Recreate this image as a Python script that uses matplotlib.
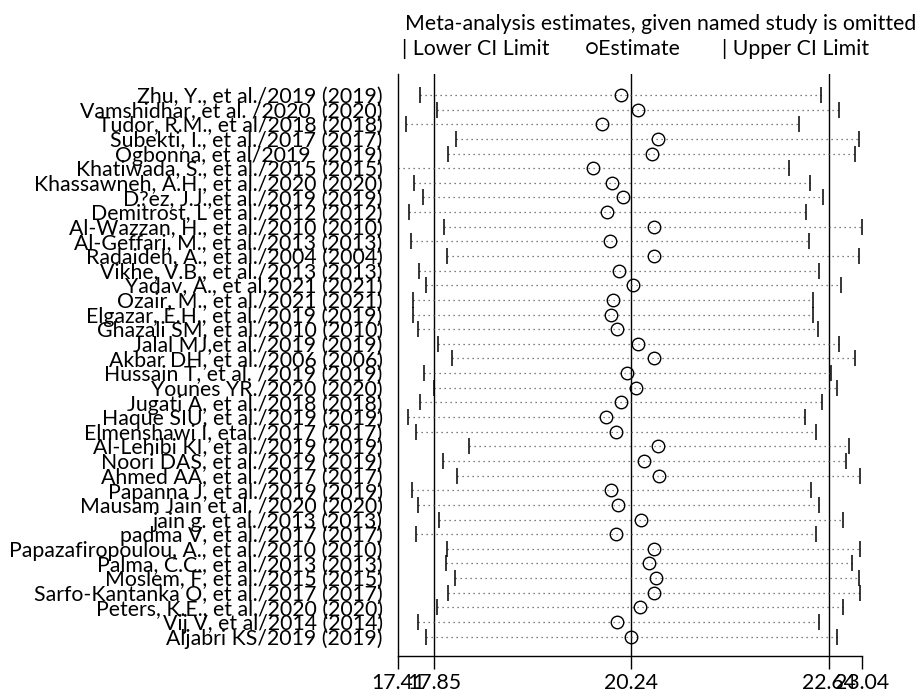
import numpy as np
import matplotlib
matplotlib.use("Agg")
import matplotlib.pyplot as plt

# ------------------------------------------------------------
# Datos: estimaciones omitiendo cada estudio (leave-one-out)
# ------------------------------------------------------------
studies = [
    "Zhu, Y., et al./2019 (2019)",
    "Vamshidhar, et al. /2020  (2020)",
    "Tudor, R.M., et al/2018 (2018)",
    "Subekti, I., et al./2017 (2017)",
    "Ogbonna, et al/2019  (2019)",
    "Khatiwada, S., et al./2015 (2015)",
    "Khassawneh, A.H., et al./2020 (2020)",
    "D?ez, J.J.,et al./2019 (2019)",
    "Demitrost, L et al./2012 (2012)",
    "Al-Wazzan, H., et al./2010 (2010)",
    "Al-Geffari, M., et al./2013 (2013)",
    "Radaideh, A., et al./2004 (2004)",
    "Vikhe, V.B., et al./2013 (2013)",
    "Yadav, A., et al,2021 (2021)",
    "Ozair, M., et al./2021 (2021)",
    "Elgazar, E.H., et al./2019 (2019)",
    "Ghazali SM, et al./2010 (2010)",
    "Jalal MJ,et al./2019 (2019)",
    "Akbar DH, et al./2006 (2006)",
    "Hussain T, et al. /2019 (2019)",
    "Younes YR./2020 (2020)",
    "Jugati A, et al./2018 (2018)",
    "Haque SIU, et al./2019 (2019)",
    "Elmenshawi I, etal./2017 (2017)",
    "Al-Lehibi KI, et al./2019 (2019)",
    "Noori DAS, et al./2019 (2019)",
    "Ahmed AA, et al./2017 (2017)",
    "Papanna J, et al./2019 (2019)",
    "Mausam Jain et al. /2020 (2020)",
    "jain g. et al./2013 (2013)",
    "padma V, et al./2017 (2017)",
    "Papazafiropoulou, A., et al./2010 (2010)",
    "Palma, C.C., et al./2013 (2013)",
    "Moslem, F, et al./2015 (2015)",
    "Sarfo-Kantanka O, et al./2017 (2017)",
    "Peters, K.E., et al./2020 (2020)",
    "Vij V, et al/2014 (2014)",
    "Aljabri KS/2019 (2019)",
]

estimate = [
    20.11, 20.32, 19.89, 20.56, 20.49, 19.78, 20.01, 20.14, 19.95, 20.51,
    19.98, 20.51, 20.09, 20.26, 20.02, 20.00, 20.07, 20.32, 20.51, 20.19,
    20.30, 20.11, 19.93, 20.05, 20.57, 20.40, 20.58, 19.99, 20.08, 20.36,
    20.05, 20.51, 20.45, 20.54, 20.51, 20.35, 20.07, 20.24,
]

lower_ci = [
    17.68, 17.88, 17.51, 18.11, 18.02, 17.41, 17.61, 17.71, 17.54, 17.97,
    17.57, 18.01, 17.67, 17.75, 17.59, 17.59, 17.65, 17.89, 18.07, 17.73,
    17.85, 17.68, 17.53, 17.63, 18.27, 17.96, 18.13, 17.58, 17.65, 17.91,
    17.63, 18.01, 17.99, 18.10, 18.02, 17.88, 17.65, 17.75,
]

upper_ci = [
    22.54, 22.76, 22.28, 23.00, 22.96, 22.15, 22.41, 22.57, 22.36, 23.04,
    22.40, 23.00, 22.52, 22.78, 22.45, 22.44, 22.50, 22.76, 22.96, 22.66,
    22.73, 22.55, 22.35, 22.48, 22.88, 22.85, 23.02, 22.42, 22.52, 22.81,
    22.48, 23.02, 22.92, 23.00, 23.02, 22.81, 22.52, 22.74,
]

# Estimación global y su IC
overall_est = 20.24
overall_low = 17.85
overall_up = 22.64
x_min = 17.41
x_max = 23.04

tick_values = [17.41, 17.85, 20.24, 22.64, 23.04]
tick_labels = ["17.41", "17.85", "20.24", "22.64", "23.04"]

FONT = ["Lato", "DejaVu Sans"]
FS = 15.3
plt.rcParams["font.family"] = FONT

# ------------------------------------------------------------
# Figura
# ------------------------------------------------------------
fig = plt.figure(figsize=(9.21, 6.93), dpi=100)
ax = fig.add_axes([0.4321, 0.0534, 0.5039, 0.8398])

rows = np.arange(1, len(studies) + 1)

for y, lo, est, up in zip(rows, lower_ci, estimate, upper_ci):
    ax.plot([lo, up], [y, y], color="#555555", linestyle=(0, (1, 3)),
            linewidth=0.9, zorder=2)

ax.plot(lower_ci, rows, linestyle="none", marker="|", markersize=12,
        markeredgewidth=1.1, color="black", zorder=3)
ax.plot(upper_ci, rows, linestyle="none", marker="|", markersize=12,
        markeredgewidth=1.1, color="black", zorder=3)
ax.plot(estimate, rows, linestyle="none", marker="o", markersize=9,
        markerfacecolor="none", markeredgecolor="black",
        markeredgewidth=1.0, zorder=4)

for v in [overall_low, overall_est, overall_up]:
    ax.axvline(v, color="black", linewidth=1.0, zorder=1)

ax.set_xlim(x_min, x_max)
ax.set_ylim(len(studies) + 1.32, -0.43)

ax.set_xticks(tick_values)
ax.set_xticklabels(tick_labels, fontsize=FS)
ax.tick_params(axis="x", length=9.5, width=1.0, pad=3)

ax.set_yticks(rows)
ax.set_yticklabels(studies, fontsize=FS)
ax.tick_params(axis="y", length=0, pad=11)

for side in ["top", "right"]:
    ax.spines[side].set_visible(False)
ax.spines["left"].set_linewidth(1.0)
ax.spines["bottom"].set_linewidth(1.0)

# Leyenda estilo Stata
fig.text(405 / 921, 1 - 30 / 693,
         "Meta-analysis estimates, given named study is omitted",
         fontsize=FS, va="baseline", ha="left")
fig.text(402 / 921, 1 - 55 / 693, "| Lower CI Limit",
         fontsize=FS, va="baseline", ha="left")
fig.text(585 / 921, 1 - 55 / 693, "\u25cbEstimate",
         fontsize=FS, va="baseline", ha="left")
fig.text(722 / 921, 1 - 55 / 693, "| Upper CI Limit",
         fontsize=FS, va="baseline", ha="left")

fig.savefig("out.png", dpi=100)
